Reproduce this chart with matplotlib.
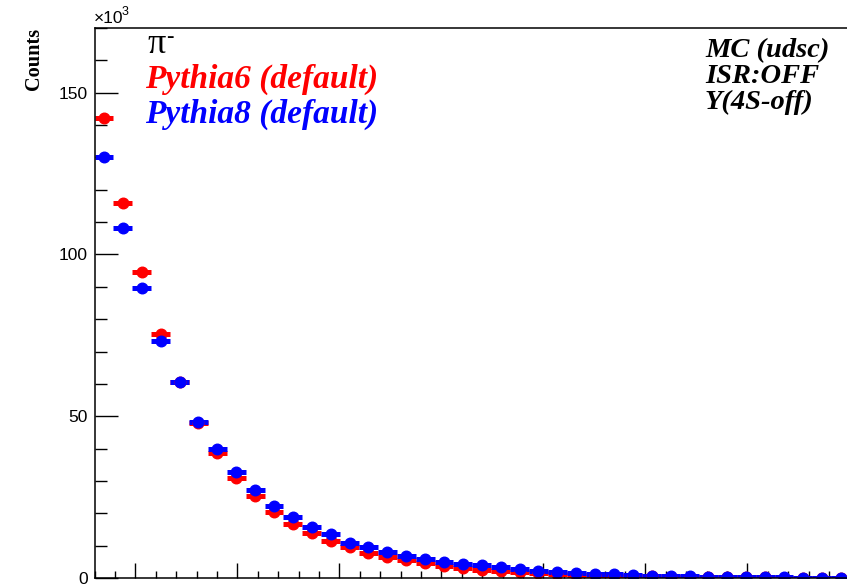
import matplotlib
matplotlib.use("Agg")
import matplotlib.pyplot as plt
import numpy as np
from matplotlib.ticker import MultipleLocator

# binning of the momentum histogram
x_min = 0.3
bin_width = 0.0926
n_bins = 40

# counts per bin, in units of 10^3
pythia6 = [142.3, 116.0, 94.6, 75.5, 60.6, 48.0, 38.6, 30.8, 25.4, 20.5,
           16.7, 14.0, 11.5, 9.7, 7.8, 6.6, 5.6, 4.5, 3.7, 3.0,
           2.6, 2.2, 1.9, 1.6, 1.3, 1.05, 0.85, 0.75, 0.65, 0.5,
           0.4, 0.35, 0.3, 0.25, 0.2, 0.18, 0.15, 0.12, 0.1, 0.08]
pythia8 = [130.2, 108.3, 89.7, 73.3, 60.5, 48.3, 39.9, 32.9, 27.2, 22.3,
           19.0, 15.9, 13.5, 10.9, 9.7, 8.1, 6.9, 5.8, 4.9, 4.3,
           3.9, 3.3, 2.7, 2.3, 1.9, 1.5, 1.2, 1.1, 1.0, 0.7,
           0.6, 0.5, 0.4, 0.4, 0.3, 0.25, 0.2, 0.15, 0.1, 0.1]

y_ticks = [0, 50, 100, 150]

centers = x_min + (np.arange(n_bins) + 0.5) * bin_width

W, H = 847, 586
fig = plt.figure(figsize=(W / 100, H / 100), dpi=100)

# frame runs past the right edge of the canvas
ax_left, ax_right, ax_top, ax_bottom = 94.5, 900, 28, 578
ax = fig.add_axes([ax_left / W, 1 - ax_bottom / H,
                   (ax_right - ax_left) / W, (ax_bottom - ax_top) / H])

x_max = x_min + (ax_right - ax_left) / 204.0
ax.set_xlim(x_min, x_max)
ax.set_ylim(0, 170)

for vals, col in [(pythia6, "#ff0000"), (pythia8, "#0000ff")]:
    ax.errorbar(centers, vals, xerr=bin_width / 2, fmt="o", color=col,
                ms=7.6, elinewidth=3.6, capsize=0, mec=col, mfc=col)

ax.xaxis.set_major_locator(MultipleLocator(0.5))
ax.xaxis.set_minor_locator(MultipleLocator(0.1))
ax.set_yticks(y_ticks)
ax.yaxis.set_minor_locator(MultipleLocator(10))
ax.tick_params(axis="both", which="both", direction="in", width=1.0,
               top=False, right=False)
ax.tick_params(axis="x", which="major", length=10.8)
ax.tick_params(axis="x", which="minor", length=5.4)
ax.tick_params(axis="y", which="major", length=16.6, pad=5)
ax.tick_params(axis="y", which="minor", length=8.6)
ax.tick_params(axis="x", labelbottom=False)
for lab in ax.get_yticklabels():
    lab.set_fontfamily("Liberation Sans")
    lab.set_fontsize(12.5)
for sp in ax.spines.values():
    sp.set_linewidth(1.1)


def px(x, y):
    return x / W, 1 - y / H


# axis title and exponent
fig.text(*px(34, 28), "Counts", rotation=90, ha="center", va="top",
         family="Liberation Serif", weight="bold", fontsize=14.6)
fig.text(*px(94, 23), "\u00d710", ha="left", va="baseline",
         family="Liberation Sans", fontsize=12.5)
fig.text(*px(122, 15), "3", ha="left", va="baseline",
         family="Liberation Sans", fontsize=9)

# legend text
fig.text(*px(147, 53), "\u03c0", ha="left", va="baseline",
         family="Liberation Serif", fontsize=26, color="black")
fig.text(*px(166, 42), "-", ha="left", va="baseline",
         family="Liberation Serif", fontsize=16, color="black")
fig.text(*px(145, 88), "Pythia6 (default)", ha="left", va="baseline",
         family="Liberation Serif", weight="bold", style="italic",
         fontsize=24, color="#ff0000")
fig.text(*px(145, 123), "Pythia8 (default)", ha="left", va="baseline",
         family="Liberation Serif", weight="bold", style="italic",
         fontsize=24, color="#0000ff")

# sample description
for txt, yb in [("MC (udsc)", 57), ("ISR:OFF", 83), ("Y(4S-off)", 109)]:
    fig.text(*px(705, yb), txt, ha="left", va="baseline",
             family="Liberation Serif", weight="bold", style="italic",
             fontsize=20.5, color="black")

fig.savefig("out.png", dpi=100)
